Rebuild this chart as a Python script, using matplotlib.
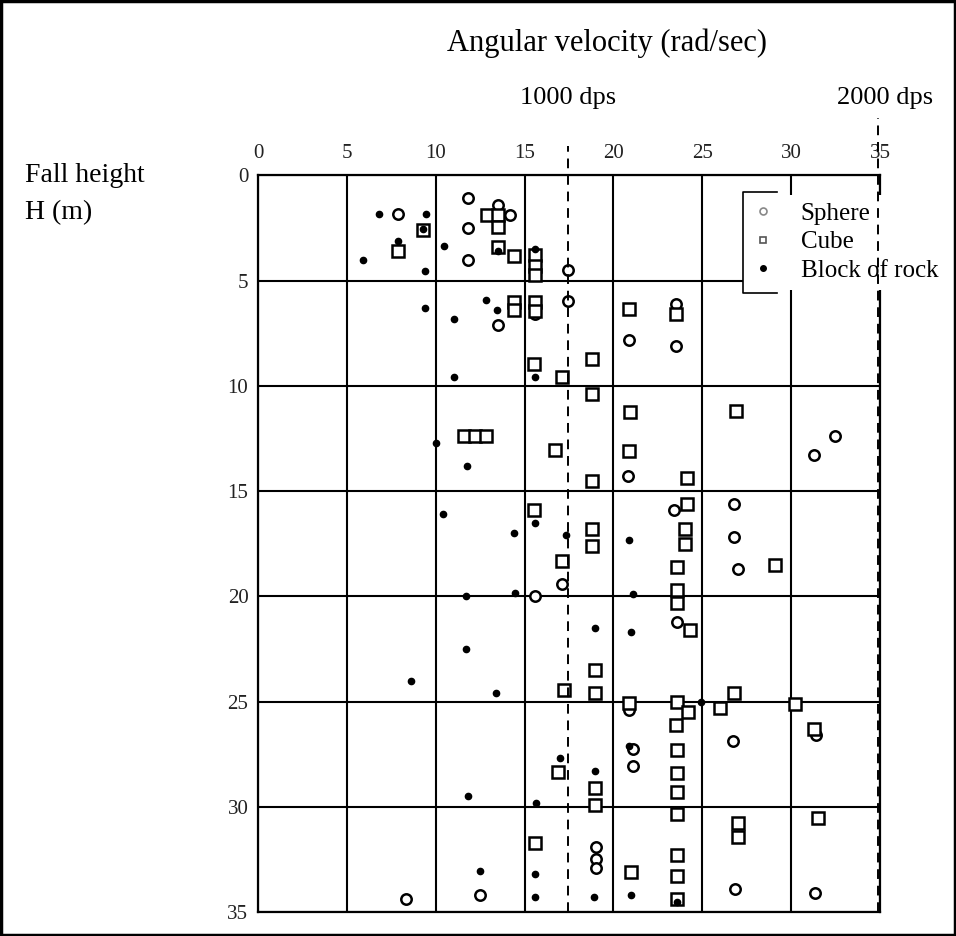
import matplotlib.pyplot as plt
from matplotlib.lines import Line2D

plt.rcParams['font.family'] = ['Liberation Serif', 'DejaVu Serif']

# angular velocity (rad/sec), fall height H (m)
sphere_w = [7.9, 11.8, 11.8, 11.8, 13.5, 14.2, 17.45, 17.45, 13.5, 15.6, 20.85, 23.5, 23.5,
            20.8, 32.45, 31.3, 23.4, 26.8, 26.8, 27.0, 17.1, 15.6, 23.6, 20.9, 26.7, 21.1,
            21.1, 31.4, 19.0, 19.0, 19.0, 26.85, 31.35, 8.3, 12.5]
sphere_h = [1.85, 1.05, 2.5, 4.0, 1.4, 1.9, 4.5, 5.95, 7.1, 6.6, 7.8, 6.1, 8.1,
            14.3, 12.4, 13.3, 15.9, 15.6, 17.2, 18.7, 19.4, 20.0, 21.2, 25.4, 26.85, 27.25,
            28.05, 26.6, 31.9, 32.5, 32.9, 33.9, 34.1, 34.4, 34.2]

cube_w = [9.3, 12.9, 13.5, 13.5, 13.5, 7.9, 14.4, 15.6, 15.6, 15.6, 14.4, 14.4, 15.6, 15.6,
          15.5, 18.8, 20.9, 23.5, 17.1, 18.8, 20.95, 26.9, 11.6, 12.2, 12.8, 16.7, 20.9,
          18.8, 24.15, 24.15, 15.5, 24.05, 24.05, 18.8, 18.8, 17.1, 29.1, 23.6, 23.6, 23.6,
          24.3, 18.95, 18.95, 17.2, 20.9, 23.55, 24.2, 23.5, 26.0, 26.8, 30.2, 31.3, 23.6,
          23.6, 23.6, 23.6, 18.95, 18.95, 16.9, 27.0, 27.0, 31.5, 15.6, 21.0, 23.6, 23.6, 23.6]
cube_h = [2.6, 1.9, 1.9, 2.45, 3.4, 3.6, 3.85, 3.8, 4.3, 4.75, 6.0, 6.4, 6.0, 6.45,
          8.95, 8.7, 6.35, 6.6, 9.6, 10.4, 11.25, 11.2, 12.4, 12.4, 12.4, 13.05, 13.1,
          14.5, 14.4, 15.6, 15.9, 16.8, 17.5, 16.8, 17.6, 18.3, 18.5, 18.6, 19.7, 20.3,
          21.6, 23.5, 24.6, 24.45, 25.05, 25.0, 25.5, 26.1, 25.3, 24.6, 25.1, 26.3, 27.3,
          28.4, 29.3, 30.35, 29.1, 29.9, 28.35, 30.75, 31.45, 30.55, 31.7, 33.1, 32.3, 33.3, 34.4]

rock_w = [6.8, 9.45, 10.46, 5.9, 9.4, 9.3, 7.9, 13.5, 9.4, 11.0, 12.8, 13.45, 15.6, 11.05,
          15.6, 10.0, 11.75, 10.4, 15.6, 14.4, 17.3, 20.85, 11.7, 14.45, 11.7, 8.6, 13.4,
          18.95, 21.0, 21.1, 24.95, 20.9, 18.95, 17.0, 11.8, 15.65, 12.5, 15.6, 15.6, 18.9,
          21.0, 23.6]
rock_h = [1.82, 1.84, 3.37, 4.02, 4.56, 2.55, 3.1, 3.6, 6.3, 6.8, 5.9, 6.4, 3.5, 9.57,
          9.57, 12.7, 13.8, 16.1, 16.5, 17.0, 17.1, 17.3, 20.0, 19.85, 22.5, 24.0, 24.6,
          21.5, 21.7, 19.9, 25.0, 27.1, 28.3, 27.7, 29.5, 29.8, 33.05, 33.2, 34.3, 34.3,
          34.2, 34.5]

x_ticks = [0, 5, 10, 15, 20, 25, 30, 35]
y_ticks = [0, 5, 10, 15, 20, 25, 30, 35]
dps_lines = [17.45, 34.9]
dps_labels = ['1000 dps', '2000 dps']

fig = plt.figure(figsize=(9.56, 9.36), dpi=100)
ax = fig.add_axes([0.270, 0.0256, 0.6505, 0.787])

ax.plot(sphere_w, sphere_h, 'o', ms=7.5, mfc='white', mec='black', mew=1.8, zorder=3)
ax.plot(cube_w, cube_h, 's', ms=8, mfc='white', mec='black', mew=1.8, zorder=3)
ax.plot(rock_w, rock_h, 'o', ms=4.5, color='black', zorder=4)

ax.set_xlim(0, 35)
ax.set_ylim(35, 0)
ax.set_xticks(x_ticks)
ax.set_yticks(y_ticks)
ax.xaxis.tick_top()
ax.tick_params(length=0, labelsize=15, colors='#222222')
ax.tick_params(axis='x', pad=9)
ax.tick_params(axis='y', pad=7)
ax.grid(True, color='black', lw=1.5)
for s in ax.spines.values():
    s.set_linewidth(1.6)

# 1000 / 2000 dps reference lines
ax.axvline(dps_lines[0], ymin=0, ymax=1.04, color='black', ls=(0, (5, 3.5)), lw=1.4,
           clip_on=False, zorder=6)
ax.axvline(dps_lines[1], ymin=0, ymax=1.078, color='black', ls=(0, (5, 3.5)), lw=1.4,
           clip_on=False, zorder=6)
ax.text(dps_lines[0], 1.105, dps_labels[0], transform=ax.get_xaxis_transform(),
        ha='center', va='center', fontsize=19)
ax.text(dps_lines[1] + 0.4, 1.105, dps_labels[1], transform=ax.get_xaxis_transform(),
        ha='center', va='center', fontsize=19)

fig.text(0.635, 0.954, 'Angular velocity (rad/sec)', ha='center', va='center', fontsize=22)
fig.text(0.026, 0.812, 'Fall height', ha='left', va='center', fontsize=20)
fig.text(0.026, 0.773, 'H (m)', ha='left', va='center', fontsize=20)

handles = [Line2D([], [], ls='none', marker='o', ms=5, mfc='white', mec='#888888', mew=1.2),
           Line2D([], [], ls='none', marker='s', ms=5, mfc='white', mec='#555555', mew=1.2),
           Line2D([], [], ls='none', marker='o', ms=4, color='black')]
leg = ax.legend(handles, ['Sphere', 'Cube', 'Block of rock'], loc='upper left',
                bbox_to_anchor=(0.78, 0.974), borderaxespad=0, fontsize=18,
                frameon=True, facecolor='white', edgecolor='none', framealpha=1,
                handlelength=1.0, handletextpad=1.0, labelspacing=0.25, borderpad=0.3)
leg.set_zorder(5)
# bracket on the left of the legend
ax.plot([0.834, 0.779, 0.779, 0.834], [0.977, 0.977, 0.841, 0.841], color='black',
        lw=1.2, transform=ax.transAxes, clip_on=False, zorder=6)

fig.add_artist(plt.Rectangle((0.0015, 0.0015), 0.997, 0.997, transform=fig.transFigure,
                             fill=False, lw=2.5, ec='black'))

fig.savefig('out.png', dpi=100)
